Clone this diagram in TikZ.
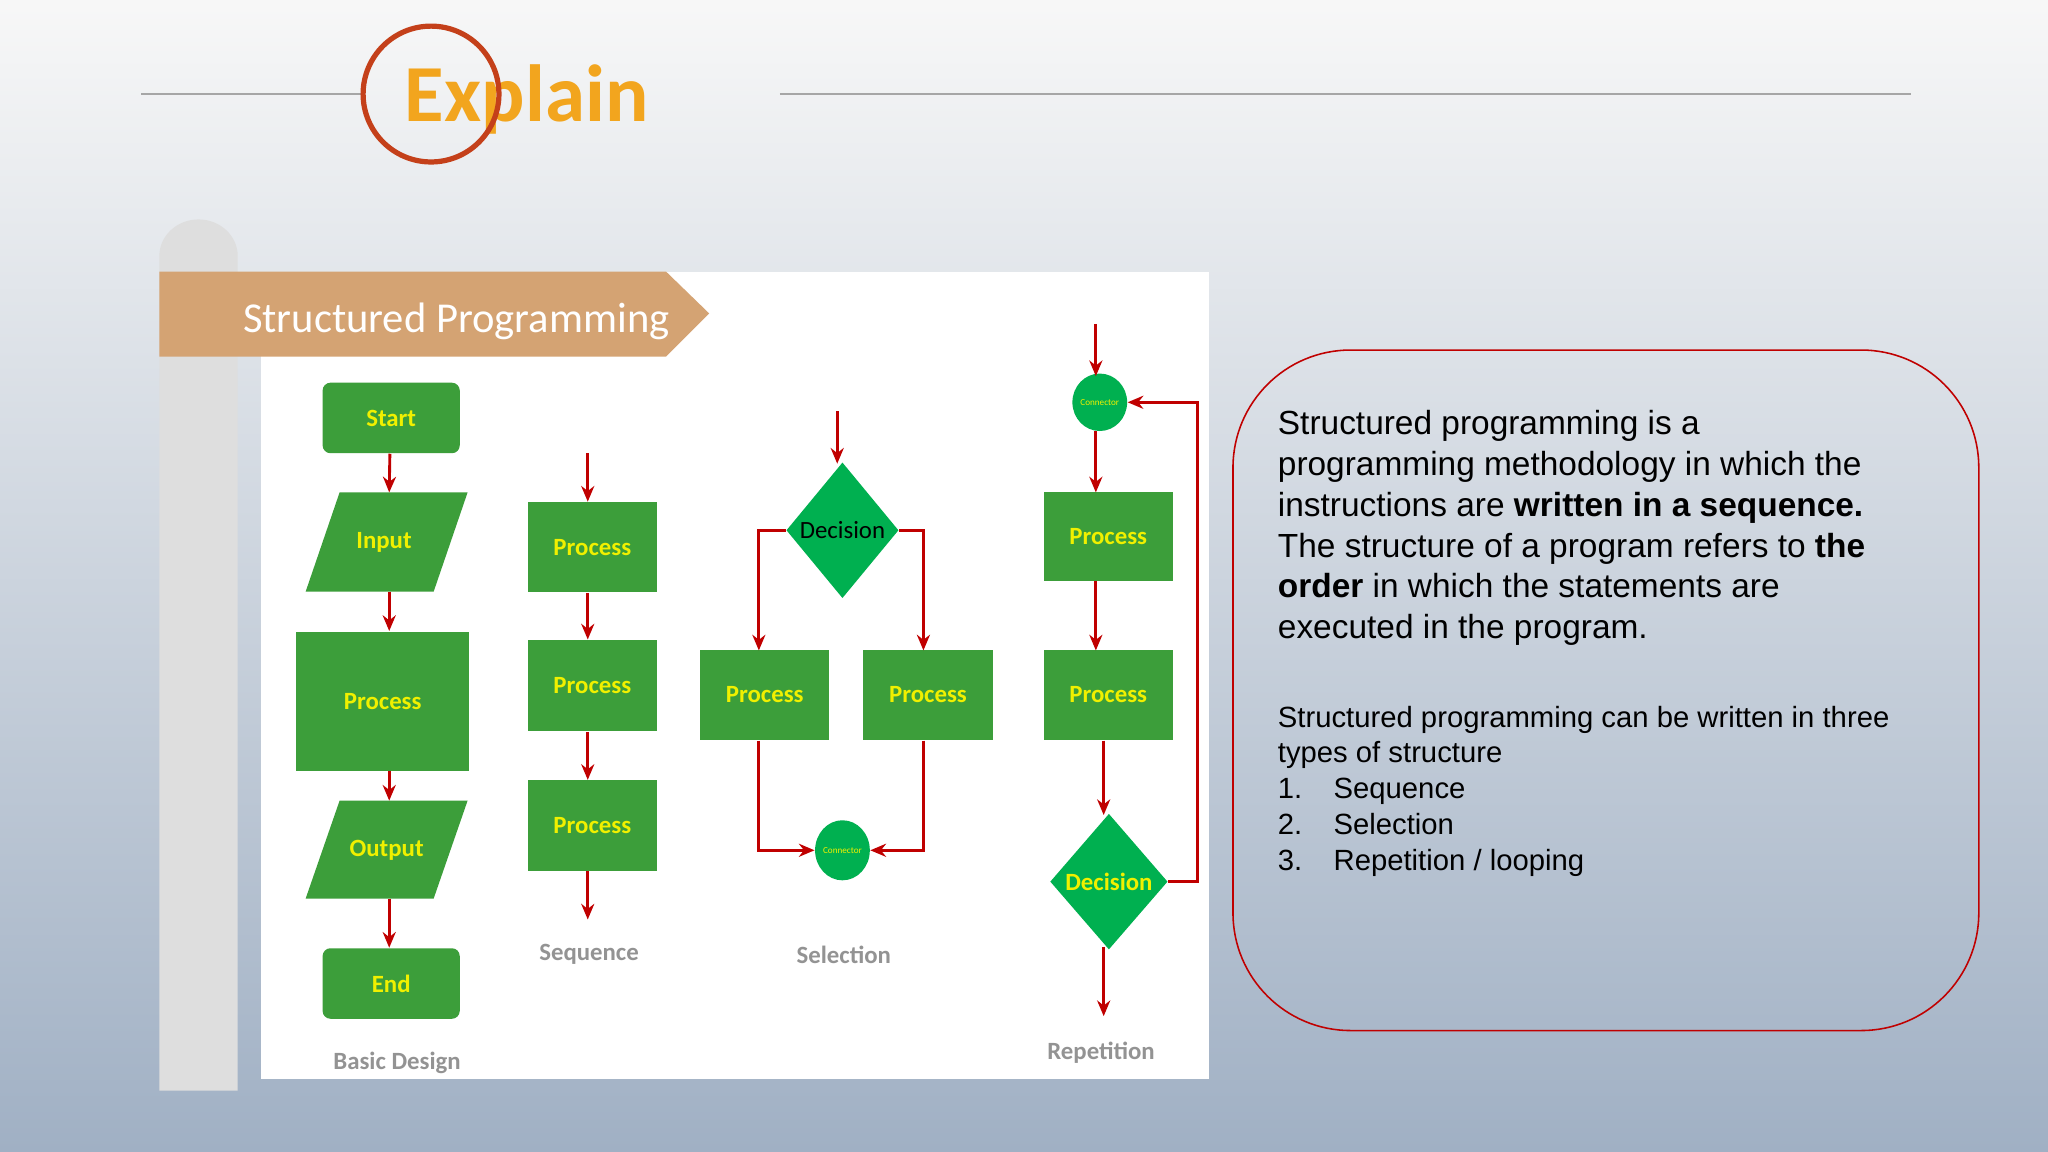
\documentclass[tikz,border=0pt]{standalone}
\usepackage{fontspec}
\setmainfont{Liberation Sans}
\newfontfamily\calfnt{Carlito}
\usetikzlibrary{shapes.geometric,arrows.meta}
\definecolor{bx}{HTML}{3C9E3A}
\definecolor{gn}{HTML}{00B050}
\definecolor{yl}{HTML}{F0F000}
\definecolor{ar}{HTML}{C00000}
\definecolor{tan}{HTML}{D4A373}
\definecolor{org}{HTML}{F2A51E}
\definecolor{ring}{HTML}{C4401A}
\begin{document}
\begin{tikzpicture}[x=0.5pt,y=-0.5pt,
  box/.style={fill=bx,draw=none,font=\calfnt\bfseries\fontsize{9.5}{11}\selectfont,text=yl},
  txt/.style={font=\calfnt\bfseries\fontsize{9.5}{11}\selectfont,text=yl},
  gar/.style={draw=ar,line width=1.1pt,-{Stealth[length=6pt,width=5pt]}},
  lab/.style={font=\calfnt\bfseries\fontsize{9.5}{11}\selectfont,text=gray!85},
  con/.style={ellipse,fill=gn,inner sep=0pt,font=\calfnt\fontsize{3.5}{3.5}\selectfont,text=yl}]
\useasboundingbox (0,0) rectangle (1568,882);
\shade[top color=black!3,bottom color={rgb,255:red,160;green,176;blue,196}] (0,0) rectangle (1568,882);
% header
\draw[gray!70,line width=0.6pt] (108,72) -- (278,72) (597,72) -- (1463,72);
\node[font=\calfnt\bfseries\fontsize{31}{31}\selectfont,text=org,anchor=west] (ex) at (303,76) {Explain};
\draw[ring,line width=2pt] (330,72) circle (52);
% left bar and panel
\fill[black!13] (122,835) -- (122,196) arc[start angle=180,end angle=360,x radius=30,y radius=28] -- (182,835) -- cycle;
\fill[white] (200,208) rectangle (926,826);
\fill[tan] (122,208) -- (510,208) -- (543,240) -- (510,273) -- (122,273) -- cycle;
\node[anchor=west,text=white,font=\calfnt\fontsize{16.3}{17}\selectfont] (ban) at (179,246) {Structured Programming};
% basic design
\node[box,rounded corners=3pt,minimum width=52.5pt,minimum height=27pt] (st) at (299.5,320) {Start};
\fill[bx] (260,377) -- (358,377) -- (332,453) -- (234,453) -- cycle;
\node[txt] (in) at (294,415) {Input};
\node[box,minimum width=66pt,minimum height=53.5pt] (pr) at (293,537) {Process};
\fill[bx] (260,613) -- (358,613) -- (332,688) -- (234,688) -- cycle;
\node[txt] (ou) at (296,651) {Output};
\node[box,rounded corners=3pt,minimum width=52.5pt,minimum height=27pt] (en) at (299.5,753) {End};
\draw[gar] (st.south) ++(-1,0) -- (298,377);
\draw[gar] (298,453) -- (pr.north -| 298,0);
\draw[gar] (298,590) -- (298,613);
\draw[gar] (298,688) -- (en.north -| 298,0);
\node[lab] (l1) at (304,814) {Basic Design};
% sequence
\node[box,minimum width=49.5pt,minimum height=34.5pt] (q1) at (453.5,419) {Process};
\node[box,minimum width=49.5pt,minimum height=35pt] (q2) at (453.5,525) {Process};
\node[box,minimum width=49.5pt,minimum height=34.5pt] (q3) at (453.5,632) {Process};
\coordinate (s0) at (450,347);
\coordinate (s4) at (450,704);
\draw[gar] (s0) -- (q1.north -| s0);
\draw[gar] (q1.south -| s0) -- (q2.north -| s0);
\draw[gar] (q2.south -| s0) -- (q3.north -| s0);
\draw[gar] (q3.south -| s0) -- (s4);
\node[lab] (l2) at (451,731) {Sequence};
% selection
\node[diamond,fill=gn,minimum width=43pt,minimum height=52pt,inner sep=0pt,font=\calfnt\fontsize{9.5}{11}\selectfont] (d1) at (645,406) {Decision};
\coordinate (e0) at (641,315);
\draw[gar] (e0) -- (641,355);
\node[box,minimum width=49.5pt,minimum height=34.5pt] (p1) at (585.5,532) {Process};
\node[box,minimum width=49.5pt,minimum height=34.5pt] (p2) at (710.5,532) {Process};
\node[con,minimum width=16pt,minimum height=23pt] (c1) at (645,651) {Connector};
\draw[gar] (d1.west) -- (581,406) -- (581,498);
\draw[gar] (d1.east) -- (707,406) -- (707,498);
\draw[gar] (581,567) -- (581,651) -- (c1.west);
\draw[gar] (707,567) -- (707,651) -- (c1.east);
\node[lab] (l3) at (646,731) {Selection};
% repetition
\node[con,minimum width=18pt,minimum height=22pt] (c2) at (842,308) {Connector};
\node[box,minimum width=49.5pt,minimum height=34pt] (r1) at (848.5,411) {Process};
\node[box,minimum width=49.5pt,minimum height=34.5pt] (r2) at (848.5,532) {Process};
\node[diamond,fill=gn,minimum width=45pt,minimum height=52pt,inner sep=0pt,font=\calfnt\bfseries\fontsize{9.5}{11}\selectfont,text=yl] (d2) at (849,675) {Decision};
\coordinate (g0) at (839,248);
\coordinate (g9) at (845,778);
\draw[gar] (g0) -- (839,288);
\draw[gar] (839,330) -- (839,377);
\draw[gar] (839,445) -- (839,498);
\draw[gar] (845,567) -- (845,624);
\draw[gar] (d2.east) -- (917,675) -- (917,308) -- (c2.east);
\draw[gar] (845,725) -- (g9);
\node[lab] (l4) at (843,806) {Repetition};
% text box
\draw[ar,line width=0.6pt,rounded corners=45pt] (944,268) rectangle (1515,789);
\node[anchor=north west,align=left,inner sep=0pt,font=\fontsize{12.8}{15.6}\selectfont] (t1) at (978,314) {Structured programming is a\\programming methodology in which the\\instructions are \textbf{written in a sequence.}\\The structure of a program refers to \textbf{the}\\\textbf{order} in which the statements are\\executed in the program.};
\node[anchor=north west,align=left,inner sep=0pt,font=\fontsize{11.2}{13.75}\selectfont] (t2) at (978,540) {Structured programming can be written in three\\types of structure\\
1.\hspace{12pt}Sequence\\2.\hspace{12pt}Selection\\3.\hspace{12pt}Repetition / looping};
\end{tikzpicture}
\end{document}
